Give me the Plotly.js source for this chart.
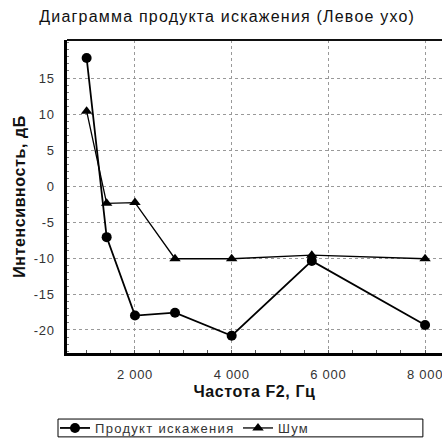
<!DOCTYPE html>
<html>
<head>
<meta charset="utf-8">
<script src="https://cdn.plot.ly/plotly-3.0.1.min.js"></script>
<style>
html,body{margin:0;padding:0;background:#fff;}
#chart{width:442px;height:441px;}
#chart .gtitle{letter-spacing:1.2px;}
#chart .xtick text,#chart .ytick text{letter-spacing:0.7px;}
#chart .legendtext{letter-spacing:1.3px;}
#chart .xtitle,#chart .ytitle{letter-spacing:0.6px;}
</style>
</head>
<body>
<div id="chart"></div>
<script>
const freqs = [1000, 1414, 2000, 2828, 4000, 5657, 8000];
const productValues = [17.8, -7.1, -18.0, -17.6, -20.8, -10.4, -19.3];
const noiseValues = [10.4, -2.4, -2.3, -10.1, -10.1, -9.6, -10.1];
const seriesNames = ['Продукт искажения', 'Шум'];
const xTickVals = [2000, 4000, 6000, 8000];
const xTickLabels = ['2 000', '4 000', '6 000', '8 000'];
const yTickVals = [-20, -15, -10, -5, 0, 5, 10, 15];
const yTickLabels = ['-20', '-15', '-10', '-5', '0', '5', '10', '15'];

const font = 'Arial, "Liberation Sans", sans-serif';
const data = [
  {x: freqs, y: productValues, name: seriesNames[0], mode: 'lines+markers', type: 'scatter',
   line: {color: '#000', width: 1.8}, marker: {symbol: 'circle', size: 10, color: '#000'}},
  {x: freqs, y: noiseValues, name: seriesNames[1], mode: 'lines+markers', type: 'scatter',
   line: {color: '#000', width: 1.3}, marker: {symbol: 'triangle-up', size: 10, color: '#000'}}
];
const layout = {
  width: 442, height: 441,
  margin: {l: 67, r: 0, t: 40, b: 88},
  paper_bgcolor: '#fff', plot_bgcolor: '#fff',
  font: {family: font, size: 12, color: '#333'},
  title: {text: 'Диаграмма продукта искажения (Левое ухо)', font: {family: font, size: 16, color: '#111'},
          x: 0.514, xref: 'container', xanchor: 'center', y: 0.962, yref: 'container', yanchor: 'middle'},
  xaxis: {range: [594, 8350], tickvals: xTickVals, ticktext: xTickLabels,
          showgrid: true, gridcolor: '#999', griddash: 'dot', gridwidth: 1,
          showline: true, linecolor: '#000', linewidth: 2.5, mirror: false,
          ticks: '', zeroline: false, ticklabelstandoff: 8,
          minor: {dtick: 500, ticks: 'inside', ticklen: 3, tickcolor: '#555', showgrid: false},
          tickfont: {family: font, size: 13, color: '#333'},
          title: {text: 'Частота F2, Гц', font: {family: font, size: 16, color: '#111', weight: 'bold'}, standoff: 5}},
  yaxis: {range: [-23.2, 20.3], tickvals: yTickVals, ticktext: yTickLabels,
          showgrid: true, gridcolor: '#999', griddash: 'dot', gridwidth: 1,
          showline: true, linecolor: '#000', linewidth: 2.5, mirror: false,
          ticks: '', zeroline: false, ticklabelstandoff: 7,
          minor: {dtick: 1, ticks: 'inside', ticklen: 2, tickcolor: '#777', showgrid: false},
          tickfont: {family: font, size: 13, color: '#333'},
          title: {text: 'Интенсивность, дБ', font: {family: font, size: 16, color: '#111', weight: 'bold'}, standoff: 7}},
  shapes: [
    {type: 'line', xref: 'paper', yref: 'paper', x0: 0, x1: 1, y0: 1, y1: 1, line: {color: '#111', width: 2}},
    {type: 'rect', xref: 'paper', yref: 'paper', x0: -0.024, x1: 0.949, y0: -0.211, y1: -0.268,
     line: {color: '#000', width: 1}, fillcolor: 'rgba(0,0,0,0)'}
  ],
  showlegend: true,
  legend: {orientation: 'h', xref: 'container', yref: 'container', x: 55/442, xanchor: 'left', y: 1 - 428/441, yanchor: 'middle',
           borderwidth: 0, bgcolor: 'rgba(0,0,0,0)', entrywidth: 138, entrywidthmode: 'pixels',
           font: {family: font, size: 13, color: '#333'}, itemwidth: 30, tracegroupgap: 0}
};
Plotly.newPlot('chart', data, layout, {displayModeBar: false, responsive: false});
</script>
</body>
</html>
